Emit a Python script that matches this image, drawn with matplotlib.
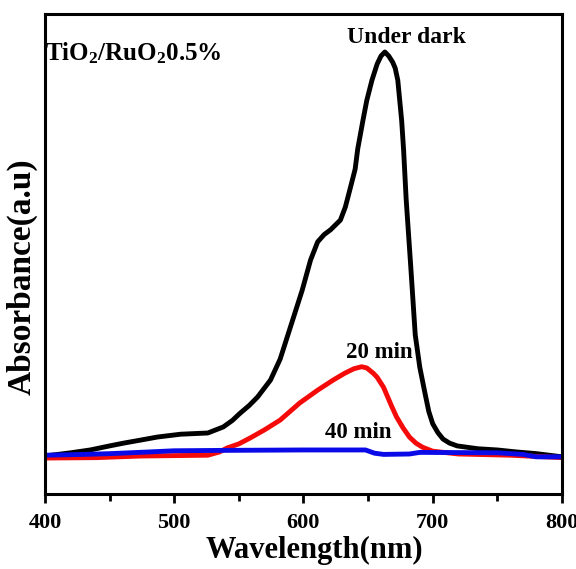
import matplotlib
matplotlib.use("Agg")
import matplotlib.pyplot as plt

# Wavelength (nm) and absorbance (a.u.)
dark_wl = [400, 405, 420, 435, 450, 461, 475, 487, 505, 526, 538, 545, 551, 558, 564.5,
           574.5, 582, 590, 599, 605.5, 611, 616, 621, 628.6, 632.4, 636, 640, 642, 646,
           649, 653, 657, 660, 663, 666, 669, 671, 673, 676, 677.5, 679.5, 683, 686.5, 690,
           694, 697, 700, 704, 708, 713, 719, 735, 750, 765, 780, 800]
dark_abs = [0.0, 0.002, 0.008, 0.015, 0.025, 0.032, 0.04, 0.047, 0.054, 0.057, 0.072,
            0.088, 0.106, 0.125, 0.146, 0.188, 0.24, 0.32, 0.41, 0.485, 0.53, 0.548, 0.56,
            0.584, 0.616, 0.66, 0.71, 0.76, 0.83, 0.88, 0.93, 0.97, 0.99, 1.0, 0.99,
            0.975, 0.96, 0.93, 0.83, 0.757, 0.634, 0.47, 0.30, 0.22, 0.156, 0.11, 0.08,
            0.058, 0.042, 0.032, 0.025, 0.018, 0.015, 0.01, 0.006, -0.002]

red_wl = [400, 440, 474, 500, 526, 535, 541, 550, 559, 570, 582, 597, 611, 623, 632, 639,
          645, 649, 654, 657, 662, 668, 672, 677, 682, 687, 692, 700, 720, 760, 800]
red_abs = [-0.005, -0.004, 0.0, 0.001, 0.002, 0.01, 0.02, 0.03, 0.045, 0.065, 0.089, 0.131,
           0.163, 0.188, 0.205, 0.216, 0.221, 0.218, 0.205, 0.195, 0.17, 0.125, 0.097,
           0.07, 0.047, 0.032, 0.022, 0.012, 0.005, 0.002, -0.004]

blue_wl = [400, 430, 451, 480, 500, 540, 600, 648, 655, 662, 682, 690, 750, 770, 780, 800]
blue_abs = [0.002, 0.004, 0.006, 0.01, 0.013, 0.014, 0.015, 0.015, 0.007, 0.004, 0.005,
            0.009, 0.008, 0.004, -0.002, -0.002]

labels = {"dark": "Under dark", "20": "20 min", "40": "40 min"}
sample = r"TiO$_\mathbf{2}$/RuO$_\mathbf{2}$0.5%"

plt.rcParams['font.family'] = ['Liberation Serif', 'DejaVu Serif']
plt.rcParams['mathtext.fontset'] = 'custom'
plt.rcParams['mathtext.rm'] = 'Liberation Serif:bold'
plt.rcParams['mathtext.bf'] = 'Liberation Serif:bold'
plt.rcParams['mathtext.it'] = 'Liberation Serif:bold'

fig = plt.figure(figsize=(5.76, 5.69), dpi=100)
ax = fig.add_axes([0.078, 0.1318, 0.8976, 0.8436])

ax.plot(dark_wl, dark_abs, color='black', lw=3.5, solid_joinstyle='round', solid_capstyle='round')
ax.plot(red_wl, red_abs, color='#f50a0a', lw=3.5, solid_joinstyle='round')
ax.plot(blue_wl, blue_abs, color='#0a0ae8', lw=3.5, solid_joinstyle='round')

ax.set_xlim(400, 800)
ax.set_ylim(-0.094, 1.094)
ax.set_xticks([400, 500, 600, 700, 800])
ax.set_xticks([450, 550, 650, 750], minor=True)
ax.set_yticks([])
ax.tick_params(axis='x', which='major', direction='out', length=6.5, width=2, labelsize=16, pad=7)
ax.tick_params(axis='x', which='minor', direction='out', length=5, width=2)
for lab in ax.get_xticklabels():
    lab.set_fontweight('bold')
for s in ax.spines.values():
    s.set_linewidth(2.2)

ax.set_xlabel("Wavelength(nm)", fontsize=22, fontweight='bold', va='top')
ax.xaxis.set_label_coords(0.522, -0.088)
ax.set_ylabel("Absorbance(a.u)", fontsize=24, fontweight='bold', va='center', ha='center')
ax.yaxis.set_label_coords(-0.0445, 0.452)

ax.text(0.0, 0.904, sample, transform=ax.transAxes, fontsize=18, fontweight='bold',
        ha='left', va='baseline')
ax.text(680, 1.0215, labels["dark"], fontsize=17, fontweight='bold', ha='center', va='baseline')
ax.text(659, 0.243, labels["20"], fontsize=16.5, fontweight='bold', ha='center', va='baseline')
ax.text(642.5, 0.045, labels["40"], fontsize=16.5, fontweight='bold', ha='center', va='baseline')

fig.savefig("out.png", dpi=100)
